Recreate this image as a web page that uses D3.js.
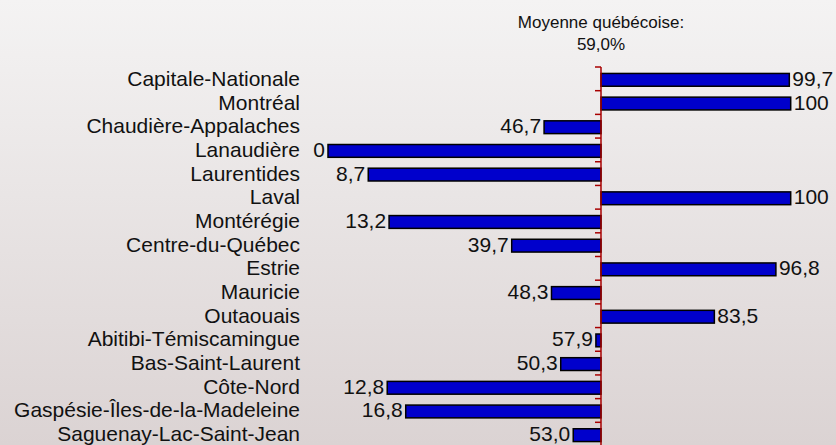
<!DOCTYPE html>
<html>
<head>
<meta charset="utf-8">
<script src="https://cdn.jsdelivr.net/npm/d3@7"></script>
<style>
  body { margin: 0; }
  svg { display: block; font-family: "Liberation Sans", Arial, sans-serif; }
</style>
</head>
<body>
<svg width="836" height="445"></svg>
<script>
// regions, in display order
var regions = ["Capitale-Nationale", "Montréal", "Chaudière-Appalaches", "Lanaudière",
    "Laurentides", "Laval", "Montérégie", "Centre-du-Québec", "Estrie", "Mauricie",
    "Outaouais", "Abitibi-Témiscamingue", "Bas-Saint-Laurent", "Côte-Nord",
    "Gaspésie-Îles-de-la-Madeleine", "Saguenay-Lac-Saint-Jean"];
var values = [99.7, 100, 46.7, 0, 8.7, 100, 13.2, 39.7, 96.8, 48.3, 83.5, 57.9, 50.3, 12.8, 16.8, 53.0];
var valueLabels = ["99,7", "100", "46,7", "0", "8,7", "100", "13,2", "39,7", "96,8", "48,3",
    "83,5", "57,9", "50,3", "12,8", "16,8", "53,0"];
var average = 59.0;
var titleLines = ["Moyenne québécoise:", "59,0%"];

var svg = d3.select("svg"),
    width = +svg.attr("width"),
    height = +svg.attr("height");

// background gradient
var grad = svg.append("defs").append("linearGradient")
    .attr("id", "bg")
    .attr("x1", 0).attr("y1", 0).attr("x2", 0).attr("y2", 1);
grad.append("stop").attr("offset", "0%").attr("stop-color", "#f4f3f3");
grad.append("stop").attr("offset", "100%").attr("stop-color", "#dbd3d3");
svg.append("rect").attr("width", width).attr("height", height).attr("fill", "url(#bg)");

var x = d3.scaleLinear().domain([0, 100]).range([328, 790.7]);
var y = d3.scaleBand().domain(regions).range([67, 446]).paddingInner(0.46).paddingOuter(0.23);
var wide = 1.05; // labels are a touch wider than plain Arial

// bars, from the average to the value
svg.selectAll(".bar")
    .data(regions)
    .enter().append("rect")
    .attr("class", "bar")
    .attr("x", (d, i) => x(Math.min(values[i], average)))
    .attr("y", d => y(d) + 1)
    .attr("width", (d, i) => Math.abs(x(values[i]) - x(average)))
    .attr("height", y.bandwidth())
    .attr("fill", "#0000cc")
    .attr("stroke", "#000")
    .attr("stroke-width", 1.5);

// value labels
svg.selectAll(".val")
    .data(regions)
    .enter().append("text")
    .attr("class", "val")
    .attr("transform", (d, i) => "translate(" +
        (values[i] >= average ? x(values[i]) + 3 : x(values[i]) - 3) + "," +
        (y(d) + y.bandwidth() / 2) + ") scale(" + wide + ",1)")
    .attr("dy", "0.35em")
    .attr("text-anchor", (d, i) => values[i] >= average ? "start" : "end")
    .style("font-size", "20px")
    .attr("fill", "#111")
    .text((d, i) => valueLabels[i]);

// category labels
svg.selectAll(".cat")
    .data(regions)
    .enter().append("text")
    .attr("class", "cat")
    .attr("transform", d => "translate(300," + (y(d) + y.bandwidth() / 2) + ") scale(" + wide + ",1)")
    .attr("dy", "0.35em")
    .attr("text-anchor", "end")
    .style("font-size", "20px")
    .attr("fill", "#111")
    .text(d => d);

// average axis with ticks at band boundaries
var ax = x(average);
svg.append("line")
    .attr("x1", ax).attr("x2", ax)
    .attr("y1", y.range()[0]).attr("y2", height)
    .attr("stroke", "#a80000").attr("stroke-width", 1.5);
var bounds = regions.map(d => y(d) - y.step() * y.paddingInner() / 2);
svg.selectAll(".tick")
    .data(bounds)
    .enter().append("line")
    .attr("x1", ax - 6).attr("x2", ax)
    .attr("y1", d => d).attr("y2", d => d)
    .attr("stroke", "#a80000").attr("stroke-width", 1.5);

// title
svg.selectAll(".title")
    .data(titleLines)
    .enter().append("text")
    .attr("x", ax)
    .attr("y", (d, i) => 28 + i * 22)
    .attr("text-anchor", "middle")
    .style("font-size", "17px")
    .attr("fill", "#111")
    .text(d => d);
</script>
</body>
</html>
